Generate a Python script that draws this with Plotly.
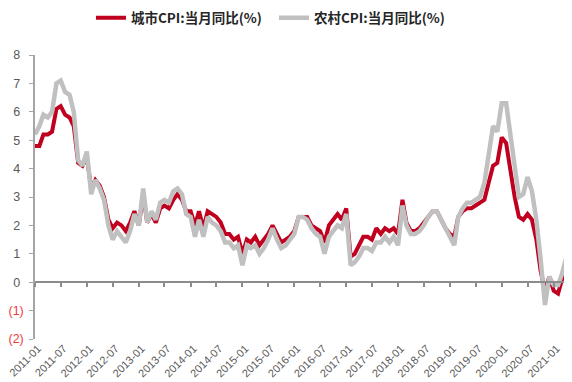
import pandas as pd
import plotly.graph_objects as go

start_month = "2011-01-01"
urban_cpi = [
    4.8, 4.8, 5.2, 5.2, 5.3, 6.1, 6.2, 5.9, 5.8, 5.5, 4.2, 4.1,
    4.4, 3.3, 3.6, 3.4, 3.0, 2.2, 1.9, 2.1, 2.0, 1.8, 2.1, 2.5,
    2.0, 3.1, 2.1, 2.4, 2.1, 2.6, 2.7, 2.6, 2.9, 3.1, 2.9, 2.5,
    2.5, 2.0, 2.5, 1.9, 2.5, 2.4, 2.3, 2.1, 1.7, 1.7, 1.5, 1.6,
    1.0, 1.5, 1.4, 1.6, 1.3, 1.5, 1.7, 2.0, 1.7, 1.4, 1.5, 1.6,
    1.8, 2.3, 2.3, 2.3, 2.0, 1.9, 1.8, 1.4, 2.0, 2.2, 2.4, 2.2,
    2.6, 0.9, 1.0, 1.3, 1.6, 1.6, 1.5, 1.9, 1.7, 1.9, 1.8, 1.9,
    1.7, 2.9, 2.1, 1.8, 1.8, 1.9, 2.1, 2.3, 2.5, 2.5, 2.2, 1.9,
    1.7, 1.6, 2.3, 2.5, 2.6, 2.6, 2.7, 2.8, 2.9, 3.5, 4.1, 4.2,
    5.1, 4.9, 4.0, 3.0, 2.3, 2.2, 2.4, 2.2, 1.5, 0.4, -0.3, 0.2,
    -0.3, -0.4, 0.1, 0.8, 1.3,
]
rural_cpi = [
    5.2, 5.5, 5.9, 5.8, 6.0, 7.0, 7.1, 6.7, 6.6, 6.0, 4.3, 4.1,
    4.6, 3.1, 3.6, 3.3, 2.9, 2.0, 1.5, 1.8, 1.6, 1.4, 1.8, 2.4,
    2.0, 3.3, 2.1, 2.5, 2.2, 2.8, 2.9, 2.8, 3.2, 3.3, 3.1, 2.4,
    2.3, 1.6, 2.2, 1.6, 2.3, 2.1, 2.0, 1.8, 1.4, 1.4, 1.2, 1.3,
    0.6, 1.3, 1.2, 1.3, 1.0, 1.2, 1.5, 1.9, 1.5, 1.2, 1.3, 1.5,
    1.7, 2.3, 2.3, 2.2, 1.9, 1.7, 1.6, 1.0, 1.6, 1.8, 2.0, 1.9,
    2.4, 0.6, 0.7, 0.9, 1.2, 1.2, 1.1, 1.4, 1.4, 1.6, 1.4, 1.6,
    1.3, 2.7, 2.0, 1.7, 1.7, 1.8, 2.0, 2.3, 2.5, 2.5, 2.2, 1.9,
    1.6, 1.3, 2.3, 2.6, 2.8, 2.8, 2.9, 3.0, 3.5, 4.6, 5.5, 5.3,
    6.3, 6.3, 5.3, 4.2, 3.0, 3.1, 3.7, 3.2, 2.2, 0.8, -0.8, 0.2,
    -0.1, -0.1, 0.3, 0.9, 1.3,
]
months = pd.date_range(start_month, periods=len(urban_cpi), freq="MS").strftime("%Y-%m-%d").tolist()

y_tick_vals = [-2, -1, 0, 1, 2, 3, 4, 5, 6, 7, 8]
y_tick_text = ['<span style="color:#EE3B3B">(2)</span>', '<span style="color:#EE3B3B">(1)</span>',
               "0\u00a0", "1\u00a0", "2\u00a0", "3\u00a0", "4\u00a0", "5\u00a0", "6\u00a0", "7\u00a0", "8\u00a0"]

name_urban = "城市CPI:当月同比(%)"
name_rural = "农村CPI:当月同比(%)"

x_range = ["2011-01-01", "2021-05-10"]

fig = go.Figure()
fig.add_trace(go.Scatter(x=months, y=urban_cpi, mode="lines", name=name_urban,
                         line=dict(color="#C0001E", width=4)))
fig.add_trace(go.Scatter(x=months, y=rural_cpi, mode="lines", name=name_rural,
                         line=dict(color="#C0C0C0", width=4.5)))
# helper trace so the zero-line axis renders
fig.add_trace(go.Scatter(x=months, y=urban_cpi, xaxis="x2", mode="lines", opacity=0,
                         showlegend=False, hoverinfo="skip", line=dict(width=0.1)))

# the page body has an 8px margin, so the figure is sized/offset to compensate
fig.update_layout(
    width=564, height=374,
    margin=dict(l=27, r=0, t=47, b=43, autoexpand=False),
    paper_bgcolor="white", plot_bgcolor="white",
    font=dict(family="Liberation Sans, Arial, sans-serif", color="#595959", size=12),
    showlegend=True,
    legend=dict(orientation="h", x=0.445, xanchor="center", y=1.13, yanchor="middle",
                font=dict(family="Noto Sans CJK SC", size=13.5, color="#262626", weight="bold"),
                itemwidth=30, entrywidthmode="pixels", entrywidth=138,
                bgcolor="rgba(0,0,0,0)"),
    xaxis=dict(type="date", range=x_range, tickmode="linear", tick0="2011-01-01", dtick="M6",
               tickformat="%Y-%m", tickangle=-45, showgrid=False, showline=False, ticks="",
               zeroline=False, automargin=False, ticklabeloverflow="allow", ticklabelshift=3,
               tickfont=dict(size=11, color="#595959")),
    xaxis2=dict(type="date", range=x_range, overlaying="x", anchor="free", position=0.2,
                tickmode="linear", tick0="2011-01-01", dtick="M6", showticklabels=False,
                showline=True, linecolor="#8C8C8C", linewidth=2, ticks="outside", ticklen=4,
                tickcolor="#8C8C8C", tickwidth=1.5, showgrid=False, zeroline=False, automargin=False),
    yaxis=dict(range=[-2, 8], tickmode="array", tickvals=y_tick_vals, ticktext=y_tick_text,
               showgrid=False, zeroline=False, showline=True, linecolor="#A6A6A6", linewidth=1.5,
               ticks="outside", ticklen=4, tickcolor="#A6A6A6", ticklabelstandoff=3,
               automargin=False, ticklabeloverflow="allow",
               tickfont=dict(size=12.5, color="#595959")),
)

fig.write_html("out.html")
